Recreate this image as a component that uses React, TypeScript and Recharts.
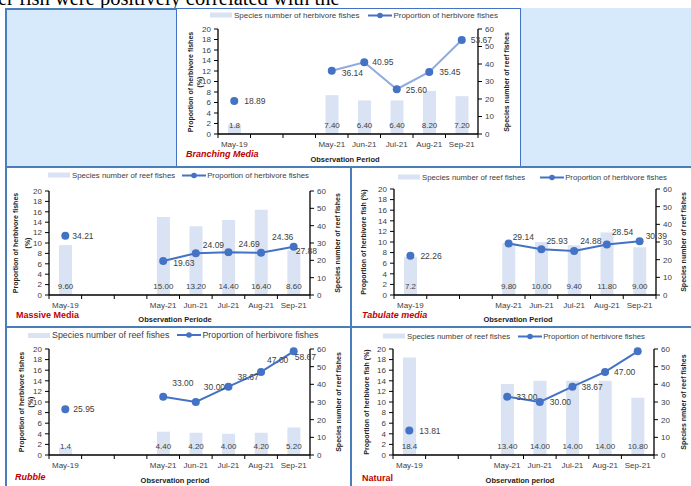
import React from "react";
import { ComposedChart, Bar, Line, XAxis, YAxis, LabelList } from "recharts";

const periods = ["May-19", "", "", "May-21", "Jun-21", "Jul-21", "Aug-21", "Sep-21"];
const leftTicks = [0, 2, 4, 6, 8, 10, 12, 14, 16, 18, 20];
const rightTicks = [0, 10, 20, 30, 40, 50, 60];

const branchingSpecies = [1.8, null, null, 7.4, 6.4, 6.4, 8.2, 7.2];
const branchingProportion = [18.89, null, null, 36.14, 40.95, 25.6, 35.45, 53.67];
const massiveSpecies = [9.6, null, null, 15.0, 13.2, 14.4, 16.4, 8.6];
const massiveProportion = [34.21, null, null, 19.63, 24.09, 24.69, 24.36, 27.88];
const tabulateSpecies = [7.2, null, null, 9.8, 10.0, 9.4, 11.8, 9.0];
const tabulateProportion = [22.26, null, null, 29.14, 25.93, 24.88, 28.54, 30.39];
const rubbleSpecies = [1.4, null, null, 4.4, 4.2, 4.0, 4.2, 5.2];
const rubbleProportion = [25.95, null, null, 33.0, 30.0, 38.67, 47.0, 58.67];
const naturalSpecies = [18.4, null, null, 13.4, 14.0, 14.0, 14.0, 10.8];
const naturalProportion = [13.81, null, null, 33.0, 30.0, 38.67, 47.0, 58.67];

const BAR = "#dae3f3";
const BLUE = "#4472c4";
const TXT = "#404040";
const RED = "#c00000";
const CELL = "#d6eafc";
const BORDER = "#4a7ebb";

const toRows = (species: (number | null)[], proportion: (number | null)[]) =>
  periods.map((p, i) => ({ period: p, species: species[i], proportion: proportion[i] }));

type Off = [number, number] | null;

type PanelSpec = {
  box: [number, number, number, number];
  plot: [number, number, number, number];
  species: (number | null)[];
  proportion: (number | null)[];
  firstDigits: number;
  offsets: Off[];
  lineColor: string;
  legend: { x: number; y: number; size: number; bar: string; line: string; gap: number };
  leftTitle: { lines: string[]; x: number[] };
  rightTitle: { text: string; x: number };
  caption: { text: string; x: number; y: number; italic: boolean };
  xTitle: { text: string; x: number; y: number };
};

const panels: PanelSpec[] = [
  {
    box: [177, 8, 344, 159],
    plot: [218, 29, 478, 134],
    species: branchingSpecies,
    proportion: branchingProportion,
    firstDigits: 1,
    offsets: [[10, 0], null, null, [10, 2], [8, 0], [9, 1], [10, 0], [9, 0]],
    lineColor: "#8faadc",
    legend: { x: 210, y: 15, size: 8, bar: "Species number of herbivore fishes", line: "Proportion of herbivore fishes", gap: 9 },
    leftTitle: { lines: ["Proportion of herbivore fishes", "(%)"], x: [190, 199] },
    rightTitle: { text: "Species number of reef fishes", x: 506 },
    caption: { text: "Branching Media", x: 186, y: 154, italic: true },
    xTitle: { text: "Observation Period", x: 345, y: 159 },
  },
  {
    box: [6, 168, 345, 159],
    plot: [49, 191, 310, 295],
    species: massiveSpecies,
    proportion: massiveProportion,
    firstDigits: 2,
    offsets: [[7, 0], null, null, [10, 2], [7, -8], [10, -8], [11, -16], [2, 4]],
    lineColor: BLUE,
    legend: { x: 48, y: 175, size: 7.8, bar: "Species number of reef fishes", line: "Proportion of herbivore fishes", gap: 7 },
    leftTitle: { lines: ["Proportion of herbivore fishes", "(%)"], x: [15, 27] },
    rightTitle: { text: "Species number of reef fishes", x: 337 },
    caption: { text: "Massive Media", x: 16, y: 315, italic: false },
    xTitle: { text: "Observation Periode", x: 175, y: 319 },
  },
  {
    box: [352, 168, 339, 159],
    plot: [394, 189, 656, 295],
    species: tabulateSpecies,
    proportion: tabulateProportion,
    firstDigits: 1,
    offsets: [[10, 0], null, null, [4, -7], [5, -8], [6, -10], [5, -13], [6, -5]],
    lineColor: BLUE,
    legend: { x: 398, y: 177, size: 7.8, bar: "Species number of reef fishes", line: "Proportion of herbivore fishes", gap: 15 },
    leftTitle: { lines: ["Proportion of herbivore fish (%)"], x: [363] },
    rightTitle: { text: "Species number of reef fishes", x: 683 },
    caption: { text: "Tabulate media", x: 362, y: 315, italic: true },
    xTitle: { text: "Observation Period", x: 518, y: 319 },
  },
  {
    box: [6, 328, 345, 158],
    plot: [49, 349, 310, 455],
    species: rubbleSpecies,
    proportion: rubbleProportion,
    firstDigits: 1,
    offsets: [[8, 0], null, null, [9, -14], [8, -15], [9, -10], [6, -12], [1, 6]],
    lineColor: BLUE,
    legend: { x: 28, y: 335, size: 8.9, bar: "Species number of reef fishes", line: "Proportion of herbivore fishes", gap: 8 },
    leftTitle: { lines: ["Proportion of herbivore fishes", "(%)"], x: [21, 30] },
    rightTitle: { text: "Species number of reef fishes", x: 338 },
    caption: { text: "Rubble", x: 15, y: 477, italic: true },
    xTitle: { text: "Observation period", x: 175, y: 480 },
  },
  {
    box: [352, 328, 339, 158],
    plot: [393, 349, 654, 455],
    species: naturalSpecies,
    proportion: naturalProportion,
    firstDigits: 1,
    offsets: [[10, 0], null, null, [9, 0], [10, 0], [9, 0], [9, 0], null],
    lineColor: BLUE,
    legend: { x: 383, y: 336, size: 7.8, bar: "Species number of reef fishes", line: "Proportion of herbivore fishes", gap: 8 },
    leftTitle: { lines: ["Proportion of herbivore fish (%)"], x: [366] },
    rightTitle: { text: "Species nmber of reef fishes", x: 683 },
    caption: { text: "Natural", x: 362, y: 478, italic: false },
    xTitle: { text: "Observation period", x: 520, y: 480 },
  },
];

const abs = (left: number, top: number): React.CSSProperties => ({ position: "absolute", left, top });

const Panel = ({ spec }: { spec: PanelSpec }) => {
  const [bl, bt, bw, bh] = spec.box;
  const [x0, y0, x1, y1] = spec.plot;
  const band = (x1 - x0) / periods.length;
  const axisY = y1 - bt;
  const rows = toRows(spec.species, spec.proportion);
  const xAxisHeight = 20;
  const midY = (y0 + y1) / 2;

  const renderTick = (p: any) => {
    const { x, payload, index } = p;
    const half = band / 2;
    return (
      <g>
        {index === 0 && <line x1={x - half} x2={x - half} y1={axisY} y2={axisY + 4} stroke="#000" />}
        <line x1={x + half} x2={x + half} y1={axisY} y2={axisY + 4} stroke="#000" />
        <text x={x} y={axisY + 12.5} textAnchor="middle" fontSize={8} fill={TXT}>
          {payload.value}
        </text>
      </g>
    );
  };

  const barLabel = (p: any) => {
    const vb = p.viewBox || {};
    const x = p.x ?? vb.x;
    const y = p.y ?? vb.y;
    const w = p.width ?? vb.width;
    const h = p.height ?? vb.height;
    if (p.value == null || x == null) return null;
    const digits = p.index === 0 ? spec.firstDigits : 2;
    return (
      <text x={x + w / 2} y={y + h - 6} textAnchor="middle" fontSize={8} fill={TXT}>
        {Number(p.value).toFixed(digits)}
      </text>
    );
  };

  const lineLabel = (p: any) => {
    const vb = p.viewBox || {};
    const x = p.x ?? vb.x;
    const y = p.y ?? vb.y;
    if (p.value == null || x == null) return null;
    const off = spec.offsets[p.index];
    if (!off) return null;
    return (
      <text x={x + off[0]} y={y + off[1]} dominantBaseline="central" fontSize={8.5} fill={TXT}>
        {Number(p.value).toFixed(2)}
      </text>
    );
  };

  const titleStyle: React.CSSProperties = {
    position: "absolute",
    transform: "translate(-50%, -50%) rotate(-90deg)",
    whiteSpace: "nowrap",
    fontSize: 7,
    fontWeight: "bold",
    color: "#222",
  };

  return (
    <>
      <div style={abs(bl, bt)}>
        <ComposedChart
          width={bw}
          height={bh}
          data={rows}
          margin={{ top: y0 - bt, left: 0, right: 0, bottom: bt + bh - y1 - xAxisHeight }}
        >
          <XAxis
            dataKey="period"
            interval={0}
            height={xAxisHeight}
            tickLine={false}
            axisLine={{ stroke: "#000", strokeWidth: 1.3 }}
            tick={renderTick}
          />
          <YAxis
            yAxisId="left"
            width={x0 - bl}
            domain={[0, 20]}
            ticks={leftTicks}
            interval={0}
            tickSize={4}
            tickMargin={3}
            tick={{ fontSize: 8, fill: TXT }}
            axisLine={{ stroke: "#000", strokeWidth: 1.3 }}
            tickLine={{ stroke: "#000" }}
          />
          <YAxis
            yAxisId="right"
            orientation="right"
            width={bl + bw - x1}
            domain={[0, 60]}
            ticks={rightTicks}
            interval={0}
            tickSize={4}
            tickMargin={3}
            tick={{ fontSize: 8, fill: TXT }}
            axisLine={{ stroke: "#000", strokeWidth: 1.3 }}
            tickLine={{ stroke: "#000" }}
          />
          <Bar yAxisId="left" dataKey="species" fill={BAR} barSize={13} isAnimationActive={false}>
            <LabelList dataKey="species" content={barLabel} />
          </Bar>
          <Line
            yAxisId="right"
            dataKey="proportion"
            stroke={spec.lineColor}
            strokeWidth={2}
            dot={{ r: 4, fill: BLUE, stroke: BLUE, strokeWidth: 0 }}
            activeDot={false}
            connectNulls={false}
            isAnimationActive={false}
          >
            <LabelList dataKey="proportion" content={lineLabel} />
          </Line>
        </ComposedChart>
      </div>
      <div
        style={{
          ...abs(spec.legend.x, spec.legend.y),
          transform: "translateY(-50%)",
          display: "flex",
          alignItems: "center",
          whiteSpace: "nowrap",
          fontSize: spec.legend.size,
          color: TXT,
        }}
      >
        <div style={{ width: 22, height: 5, background: BAR, marginRight: 2 }} />
        <span>{spec.legend.bar}</span>
        <svg width={24} height={8} style={{ marginLeft: spec.legend.gap, marginRight: 1 }}>
          <line x1={0} x2={24} y1={4} y2={4} stroke={BLUE} strokeWidth={2} />
          <circle cx={12} cy={4} r={2.8} fill={BLUE} />
        </svg>
        <span>{spec.legend.line}</span>
      </div>
      {spec.leftTitle.lines.map((t, i) => (
        <div key={t} style={{ ...titleStyle, left: spec.leftTitle.x[i], top: midY }}>
          {t}
        </div>
      ))}
      <div style={{ ...titleStyle, left: spec.rightTitle.x, top: midY }}>{spec.rightTitle.text}</div>
      <div
        style={{
          ...abs(spec.caption.x, spec.caption.y),
          transform: "translateY(-50%)",
          whiteSpace: "nowrap",
          fontSize: 9,
          fontWeight: "bold",
          fontStyle: spec.caption.italic ? "italic" : "normal",
          color: RED,
        }}
      >
        {spec.caption.text}
      </div>
      <div
        style={{
          ...abs(spec.xTitle.x, spec.xTitle.y),
          transform: "translate(-50%, -50%)",
          whiteSpace: "nowrap",
          fontSize: 7.5,
          fontWeight: "bold",
          color: "#222",
        }}
      >
        {spec.xTitle.text}
      </div>
    </>
  );
};

const App = () => {
  return (
    <div
      style={{
        position: "absolute",
        left: 0,
        top: 0,
        width: 691,
        height: 486,
        overflow: "hidden",
        background: "#fff",
        fontFamily: "'Liberation Sans', Arial, sans-serif",
      }}
    >
      <div
        style={{
          ...abs(-2, -14),
          fontFamily: "'Liberation Serif', 'Times New Roman', serif",
          fontSize: 20.5,
          lineHeight: "24px",
          whiteSpace: "nowrap",
          color: "#000",
        }}
      >
        er fish were positively correlated with the
      </div>
      {/* table cells and borders */}
      <div style={{ ...abs(5, 8), width: 172, height: 159, background: CELL }} />
      <div style={{ ...abs(521, 8), width: 170, height: 159, background: CELL }} />
      <div style={{ ...abs(5, 8), width: 172, height: 1.5, background: BORDER }} />
      <div style={{ ...abs(5, 8), width: 1.5, height: 478, background: BORDER }} />
      <div style={{ ...abs(176, 8), width: 345, height: 159, border: `1.5px solid ${BLUE}`, boxSizing: "border-box", background: "#fff" }} />
      <div style={{ ...abs(5, 166), width: 686, height: 2, background: BORDER }} />
      <div style={{ ...abs(350, 166), width: 2, height: 320, background: BORDER }} />
      <div style={{ ...abs(5, 326), width: 686, height: 2, background: BORDER }} />
      {panels.map((p, i) => (
        <Panel key={i} spec={p} />
      ))}
    </div>
  );
};

export default App;
